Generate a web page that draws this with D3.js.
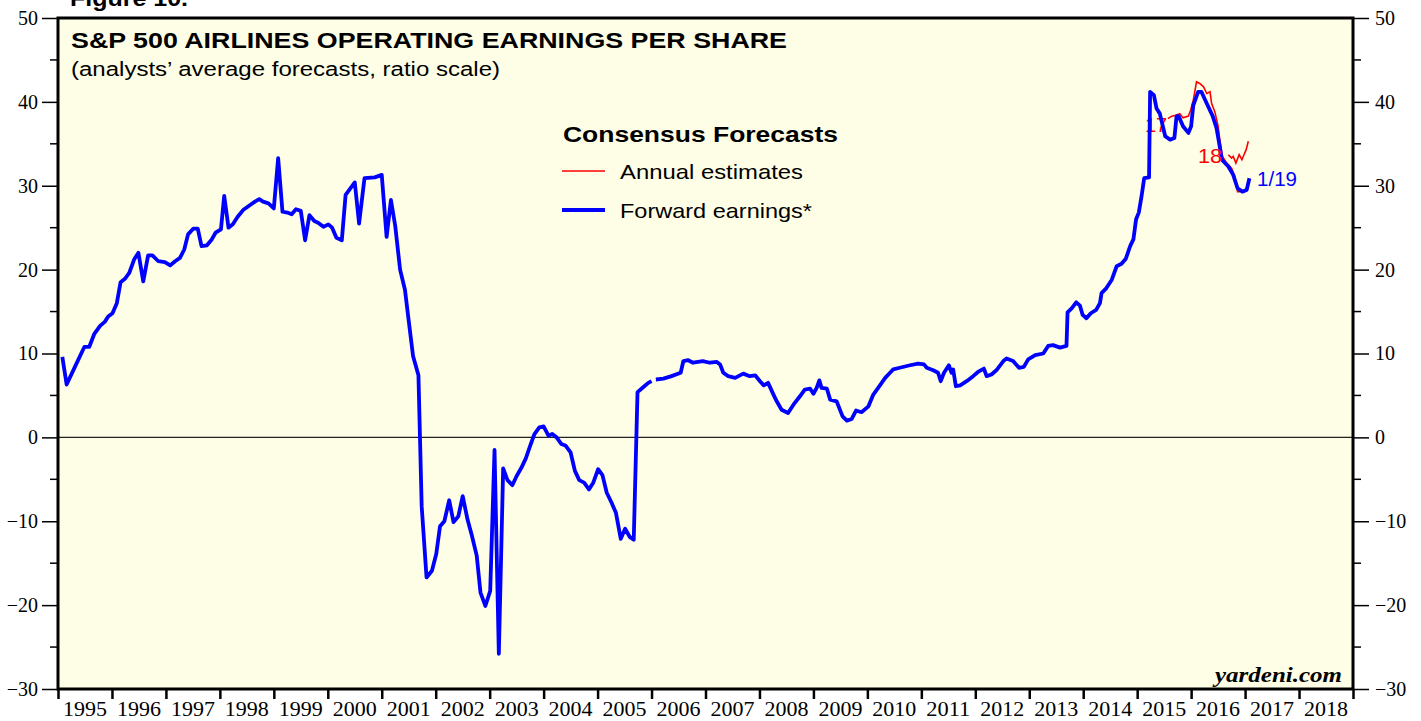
<!DOCTYPE html>
<html>
<head>
<meta charset="utf-8">
<script src="https://cdn.jsdelivr.net/npm/d3@7"></script>
<style>
  body { margin: 0; background: #fff; }
  svg text { font-family: "Liberation Sans", Arial, sans-serif; }
</style>
</head>
<body>
<div id="chart"></div>
<script>
// forward earnings (decimal year, value); null = break in the series
const fwdYears = [1995.08,1995.16,1995.32,1995.49,1995.58,1995.67,1995.78,1995.87,1995.93,1996.01,1996.09,1996.16,1996.24,1996.32,1996.41,1996.49,1996.58,1996.67,1996.75,1996.86,1996.98,
  1997.08,1997.17,1997.26,1997.34,1997.41,1997.51,1997.59,1997.66,1997.76,1997.85,1997.92,1998.02,1998.08,1998.16,1998.24,1998.33,1998.43,1998.56,1998.65,1998.73,1998.80,1998.90,
  1999.00,1999.08,1999.16,1999.25,1999.33,1999.41,1999.50,1999.58,1999.66,1999.75,1999.82,1999.92,2000.01,2000.08,2000.16,2000.26,2000.33,2000.50,2000.58,2000.68,2000.87,2001.00,
  2001.09,2001.17,2001.25,2001.34,2001.43,2001.49,2001.58,2001.68,2001.74,2001.83,2001.93,2002.01,2002.08,2002.16,2002.25,2002.33,2002.42,2002.50,2002.59,2002.67,2002.76,2002.83,
  2002.92,2003.01,2003.09,2003.17,2003.25,2003.33,2003.42,2003.50,2003.59,2003.67,2003.75,2003.83,2003.92,2004.00,2004.09,2004.16,2004.24,2004.33,2004.41,2004.50,2004.58,2004.66,
  2004.75,2004.84,2004.92,2005.01,2005.09,2005.17,2005.26,2005.34,2005.43,2005.51,2005.60,2005.67,2005.74,2005.85,2005.94,2006.00,2006.04,
  2006.08,2006.22,2006.37,2006.54,2006.59,2006.68,2006.77,2006.95,2007.08,2007.21,2007.27,2007.33,2007.42,2007.55,2007.70,2007.82,2007.92,2008.01,2008.08,2008.16,
  2008.26,2008.32,2008.41,2008.53,2008.63,2008.75,2008.84,2008.94,2009.00,2009.06,2009.11,2009.15,2009.25,2009.31,2009.43,2009.54,2009.62,2009.71,2009.79,2009.89,
  2010.02,2010.11,2010.20,2010.33,2010.42,2010.48,2010.60,2010.79,2010.94,2011.05,2011.10,2011.22,2011.31,2011.36,2011.42,2011.51,2011.56,2011.59,2011.64,2011.72,
  2011.84,2011.96,2012.05,2012.16,2012.21,2012.30,2012.39,2012.52,2012.58,2012.70,2012.81,2012.90,2012.98,2013.11,2013.26,2013.35,2013.44,2013.57,2013.69,2013.71,
  2013.79,2013.87,2013.94,2013.99,2014.06,2014.14,2014.24,2014.31,2014.34,2014.43,2014.53,2014.62,2014.71,2014.79,2014.87,2014.93,2014.98,2015.03,2015.08,2015.13,
  2015.22,2015.24,2015.31,2015.36,2015.42,2015.52,2015.61,2015.69,2015.73,2015.77,2015.85,2015.95,2016.00,2016.04,2016.13,2016.19,2016.29,2016.40,2016.47,2016.53,
  2016.57,2016.69,2016.78,2016.86,2016.95,2017.03,2017.08];
const fwdValues = [9.6,6.3,8.5,10.8,10.8,12.3,13.3,13.8,14.4,14.8,16.0,18.5,18.9,19.6,21.2,22.0,18.6,21.7,21.7,21.0,20.9,
  20.5,21.0,21.4,22.4,24.2,24.9,24.9,22.8,22.9,23.6,24.4,24.8,28.8,25.0,25.4,26.3,27.1,27.7,28.1,28.4,28.1,27.9,
  27.3,33.3,26.9,26.8,26.6,27.2,27.0,23.5,26.5,25.8,25.6,25.1,25.4,25.0,23.8,23.5,28.9,30.4,25.5,30.9,31.0,31.3,
  23.9,28.3,25.2,20.0,17.6,14.4,9.7,7.4,-8.2,-16.7,-15.9,-13.9,-10.6,-10.0,-7.5,-10.1,-9.4,-7.0,-9.8,-11.7,-14.1,-18.5,
  -20.1,-18.3,-1.5,-25.8,-3.7,-5.1,-5.7,-4.6,-3.6,-2.5,-1.0,0.4,1.2,1.3,0.2,0.4,0.0,-0.8,-1.0,-1.8,-4.0,-5.1,
  -5.4,-6.2,-5.4,-3.8,-4.5,-6.6,-7.8,-9.0,-12.1,-10.9,-11.9,-12.2,5.4,6.0,6.5,6.7,null,
  6.9,7.0,7.3,7.7,9.1,9.2,8.9,9.1,8.9,9.0,8.7,7.7,7.3,7.1,7.6,7.3,7.4,6.7,6.2,6.5,
  5.1,4.3,3.3,2.9,3.9,4.9,5.7,5.8,5.2,5.9,6.8,5.9,5.8,4.5,4.3,2.5,2.0,2.2,3.2,3.0,
  3.7,5.1,5.9,7.1,7.7,8.1,8.3,8.6,8.8,8.7,8.3,8.0,7.7,6.7,7.7,8.6,7.7,8.1,6.1,6.2,
  6.7,7.3,7.8,8.2,7.3,7.5,8.0,9.1,9.4,9.1,8.3,8.4,9.3,9.8,10.0,10.9,11.0,10.7,10.9,14.9,
  15.4,16.1,15.7,14.6,14.2,14.8,15.2,16.0,17.2,17.8,18.8,20.4,20.7,21.3,22.8,23.6,26.0,26.8,28.7,30.9,
  31.0,41.2,40.8,39.2,38.6,35.9,35.5,35.7,38.3,38.3,37.1,36.3,37.1,39.6,41.2,41.2,39.8,38.3,36.9,34.7,
  33.1,32.3,31.3,29.7,29.3,29.5,30.9];

// annual estimates
const est17Years = [2015.57,2015.64,2015.72,2015.79,2015.85,2015.95,2015.99,2016.04,2016.10,2016.16,2016.23,2016.29,2016.35,2016.38,2016.44,2016.50,2016.53,2016.58,2016.66,2016.75,2016.81,2016.86,2016.91];
const est17Values = [38.0,38.3,38.4,38.6,38.1,38.3,39.0,40.2,42.4,42.2,41.8,41.0,41.2,39.8,38.8,37.1,35.5,33.5,32.7,32.1,31.1,29.3,29.3];
const est18Years = [2016.69,2016.75,2016.78,2016.83,2016.89,2016.94,2016.98,2017.02,2017.06];
const est18Values = [33.7,33.3,33.5,32.7,33.7,33.1,33.7,34.3,35.3];

const yearTicks = d3.range(1995, 2019);
const valueTicks = d3.range(-30, 51, 10);
const minorTicks = d3.range(-25, 50, 10);

const W = 1421, H = 721;
const plotL = 58, plotR = 1353, plotT = 18, plotB = 689;
const serif = '"Liberation Serif", "Times New Roman", serif';

const svg = d3.select('#chart').append('svg')
  .attr('width', W).attr('height', H);

const x = d3.scaleLinear().domain([1995, 2019]).range([plotL, plotR]);
const y = d3.scaleLinear().domain([-30, 50]).range([plotB, plotT]);

// plot background
svg.append('rect')
  .attr('x', plotL).attr('y', plotT)
  .attr('width', plotR - plotL).attr('height', plotB - plotT)
  .attr('fill', '#fefee6');

// zero line
svg.append('line')
  .attr('x1', plotL).attr('x2', plotR)
  .attr('y1', y(0)).attr('y2', y(0))
  .attr('stroke', '#222').attr('stroke-width', 1.2);

// left / right value axes
const axisL = svg.append('g').attr('transform', `translate(${plotL},0)`)
  .call(d3.axisLeft(y).tickValues(valueTicks).tickSize(16).tickPadding(4).tickFormat(d3.format('d')));
const axisR = svg.append('g').attr('transform', `translate(${plotR},0)`)
  .call(d3.axisRight(y).tickValues(valueTicks).tickSize(16).tickPadding(6).tickFormat(d3.format('d')));
[axisL, axisR].forEach(g => {
  g.select('.domain').remove();
  g.selectAll('line').attr('stroke', '#000').attr('stroke-width', 1.5);
  g.selectAll('text')
    .style('font-family', serif)
    .style('font-size', '20px').attr('fill', '#000');
});
axisL.selectAll('.minor').data(minorTicks).enter().append('line')
  .attr('x1', -8).attr('x2', 0)
  .attr('y1', d => y(d)).attr('y2', d => y(d))
  .attr('stroke', '#000').attr('stroke-width', 1.5);
axisR.selectAll('.minor').data(minorTicks).enter().append('line')
  .attr('x1', 0).attr('x2', 8)
  .attr('y1', d => y(d)).attr('y2', d => y(d))
  .attr('stroke', '#000').attr('stroke-width', 1.5);

// year axis: ticks at year boundaries, labels centred in each year
const axisB = svg.append('g').attr('transform', `translate(0,${plotB})`)
  .call(d3.axisBottom(x).tickValues(d3.range(1995, 2020)).tickSize(10).tickFormat(''));
axisB.select('.domain').remove();
axisB.selectAll('line').attr('stroke', '#000').attr('stroke-width', 2.5);
axisB.selectAll('.yl').data(yearTicks).enter().append('text')
  .attr('class', 'yl')
  .attr('x', d => x(d + 0.5))
  .attr('y', 27)
  .attr('fill', '#000')
  .attr('text-anchor', 'middle')
  .attr('textLength', 44).attr('lengthAdjust', 'spacingAndGlyphs')
  .style('font-family', serif)
  .style('font-size', '20px')
  .text(d => d);

// frame
svg.append('rect')
  .attr('x', plotL).attr('y', plotT)
  .attr('width', plotR - plotL).attr('height', plotB - plotT)
  .attr('fill', 'none').attr('stroke', '#000').attr('stroke-width', 3);

// series
const line = d3.line()
  .defined(d => d[1] !== null)
  .x(d => x(d[0])).y(d => y(d[1]));

svg.append('text')
  .attr('x', 1145).attr('y', 132)
  .attr('fill', '#ff0000').style('font-size', '20px')
  .text('17');

svg.append('path')
  .datum(d3.zip(est17Years, est17Values))
  .attr('d', line)
  .attr('fill', 'none').attr('stroke', '#ff0000').attr('stroke-width', 1.6);
svg.append('path')
  .datum(d3.zip(est18Years, est18Values))
  .attr('d', line)
  .attr('fill', 'none').attr('stroke', '#ff0000').attr('stroke-width', 1.6);

svg.append('path')
  .datum(d3.zip(fwdYears, fwdValues))
  .attr('d', line)
  .attr('fill', 'none').attr('stroke', '#0000ff')
  .attr('stroke-width', 3.8).attr('stroke-linejoin', 'round');

svg.append('text')
  .attr('x', 1198).attr('y', 163)
  .attr('fill', '#ff0000').style('font-size', '21px')
  .attr('textLength', 24).attr('lengthAdjust', 'spacingAndGlyphs')
  .text('18');
svg.append('text')
  .attr('x', 1257).attr('y', 186)
  .attr('fill', '#0000ff').style('font-size', '21px')
  .attr('textLength', 40).attr('lengthAdjust', 'spacingAndGlyphs')
  .text('1/19');

// titles
svg.append('text')
  .attr('x', 70).attr('y', 6)
  .style('font-size', '22px').style('font-weight', 'bold')
  .attr('textLength', 118).attr('lengthAdjust', 'spacingAndGlyphs')
  .text('Figure 10.');
svg.append('text')
  .attr('x', 71).attr('y', 48)
  .style('font-size', '22px').style('font-weight', 'bold')
  .attr('textLength', 716).attr('lengthAdjust', 'spacingAndGlyphs')
  .text('S&P 500 AIRLINES OPERATING EARNINGS PER SHARE');
svg.append('text')
  .attr('x', 71).attr('y', 76)
  .style('font-size', '20px')
  .attr('textLength', 429).attr('lengthAdjust', 'spacingAndGlyphs')
  .text('(analysts’ average forecasts, ratio scale)');

// legend
svg.append('text')
  .attr('x', 563).attr('y', 142)
  .style('font-size', '22px').style('font-weight', 'bold')
  .attr('textLength', 275).attr('lengthAdjust', 'spacingAndGlyphs')
  .text('Consensus Forecasts');
svg.append('line')
  .attr('x1', 562).attr('x2', 605).attr('y1', 171).attr('y2', 171)
  .attr('stroke', '#ff0000').attr('stroke-width', 1.6);
svg.append('text')
  .attr('x', 620).attr('y', 179)
  .style('font-size', '21px')
  .attr('textLength', 183).attr('lengthAdjust', 'spacingAndGlyphs')
  .text('Annual estimates');
svg.append('line')
  .attr('x1', 562).attr('x2', 605).attr('y1', 210).attr('y2', 210)
  .attr('stroke', '#0000ff').attr('stroke-width', 3.8);
svg.append('text')
  .attr('x', 620).attr('y', 218)
  .style('font-size', '21px')
  .attr('textLength', 192).attr('lengthAdjust', 'spacingAndGlyphs')
  .text('Forward earnings*');

svg.append('text')
  .attr('x', 1215).attr('y', 682)
  .style('font-family', serif)
  .style('font-size', '21px').style('font-weight', 'bold').style('font-style', 'italic')
  .attr('textLength', 127).attr('lengthAdjust', 'spacingAndGlyphs')
  .text('yardeni.com');
</script>
</body>
</html>
